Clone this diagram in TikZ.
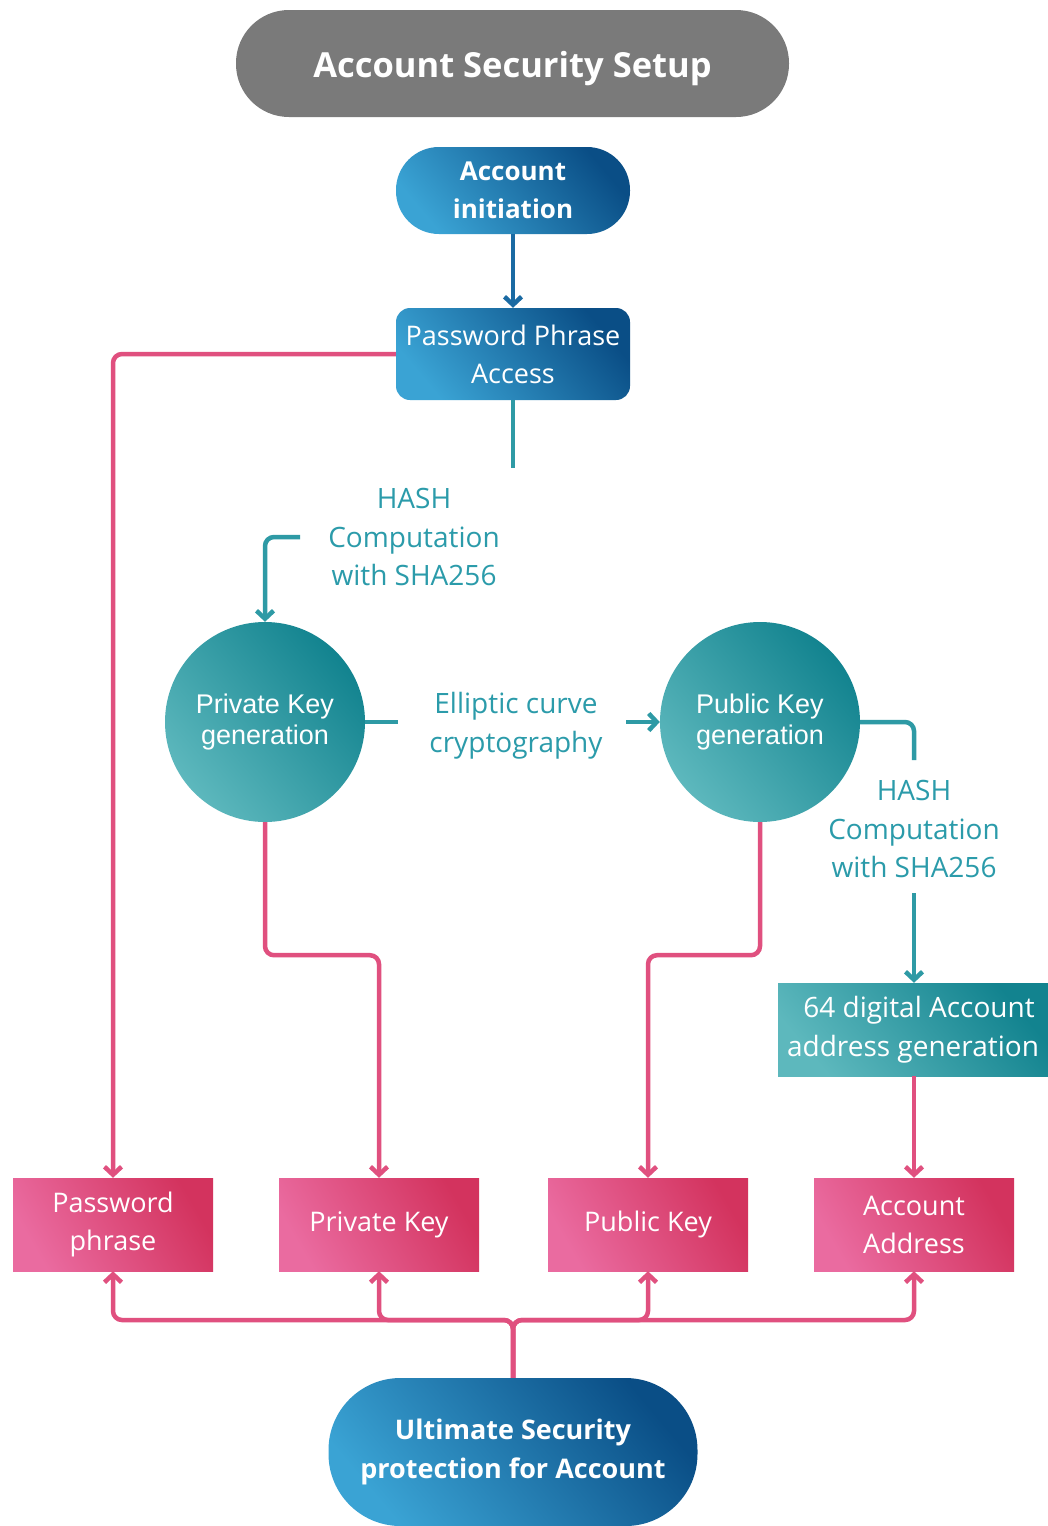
\documentclass[tikz,border=0pt]{standalone}
\usepackage{fontspec}
\setmainfont{Open Sans}
\newfontfamily\arialfont{Liberation Sans}
\usetikzlibrary{arrows.meta,calc}
\definecolor{blueL}{HTML}{3AA3D4}
\definecolor{blueD}{HTML}{0A4E86}
\definecolor{tealL}{HTML}{5DB8BD}
\definecolor{tealD}{HTML}{12838F}
\definecolor{pinkL}{HTML}{EA6BA0}
\definecolor{pinkD}{HTML}{D3335E}
\definecolor{titlegray}{HTML}{7A7A7A}
\definecolor{labelteal}{HTML}{2B9BAA}
\definecolor{pinkline}{HTML}{E0507F}
\definecolor{tealline}{HTML}{2E9AA5}
\definecolor{blueline}{HTML}{1A6AA3}
\tikzset{
  titlebox/.style={fill=titlegray,text=white,rounded corners=53pt,minimum width=553pt,minimum height=107pt,
     text height=36pt,text depth=8pt,font=\fontsize{34.5}{40}\selectfont\bfseries},
  bluegrad/.style={top color=blueD,bottom color=blueL,shading angle=-50,text=white},
  tealgrad/.style={top color=tealD,bottom color=tealL,shading angle=-50,text=white},
  pinkgrad/.style={top color=pinkD,bottom color=pinkL,shading angle=-60,text=white},
  initbox/.style={bluegrad,rounded corners=43pt,minimum width=234pt,minimum height=87pt,align=center,
     font=\fontsize{26}{38}\selectfont\bfseries},
  ppabox/.style={bluegrad,rounded corners=14pt,minimum width=234pt,minimum height=92pt,align=center,inner sep=0pt,
     font=\fontsize{27}{38}\selectfont},
  keycircle/.style={tealgrad,circle,minimum size=200pt,inner sep=0pt,align=center,
     font=\arialfont\fontsize{27}{31}\selectfont},
  addrbox/.style={tealgrad,minimum width=270pt,minimum height=93pt,align=center,inner sep=0pt,
     font=\fontsize{28}{39}\selectfont},
  outbox/.style={pinkgrad,minimum width=200pt,minimum height=93pt,align=center,inner sep=0pt,
     font=\fontsize{27}{38}\selectfont},
  ultbox/.style={bluegrad,rounded corners=72pt,minimum width=369pt,minimum height=148pt,align=center,
     font=\fontsize{27}{39}\selectfont\bfseries},
  lbl/.style={text=labelteal,align=center,inner sep=0pt,font=\fontsize{28}{38.5}\selectfont},
  arr/.style={-{Straight Barb[length=8pt,width=17pt]}},
  pinkc/.style={draw=pinkline,line width=4.5pt,rounded corners=9pt},
  tealc/.style={draw=tealline,line width=4.5pt,rounded corners=9pt},
  bluec/.style={draw=blueline,line width=4.5pt},
}
\begin{document}
\begin{tikzpicture}[x=1pt,y=-1pt]
\useasboundingbox (0,0) rectangle (1048,1526);
\fill[white] (0,0) rectangle (1048,1526);

\node[titlebox] (title) at (512.5,63.5) {Account Security Setup};
\node[initbox] (init) at (513,190.5) {Account\\initiation};
\node[ppabox] (ppa) at (513,354) {Password Phrase\\Access};

\node[keycircle] (priv) at (265,722) {Private Key\\generation};
\node[keycircle] (pub) at (760,722) {Public Key\\generation};

\node[lbl] (hash1) at (414,537) {HASH\\Computation\\with SHA256};
\node[lbl] (ecc) at (516,725.5) {Elliptic curve\\cryptography};
\node[lbl] (hash2) at (914,829) {HASH\\Computation\\with SHA256};

\node[addrbox] (addr) at (913,1029.5) {\hspace*{12pt}64 digital Account\\address generation};

\node[outbox] (pw) at (113,1224.5) {Password\\phrase};
\node[outbox] (pk) at (379,1224.5) {Private Key};
\node[outbox] (pubk) at (648,1224.5) {Public Key};
\node[outbox] (acc) at (914,1224.5) {Account\\Address};

\node[ultbox] (ult) at (513,1452) {Ultimate Security\\protection for Account};

% coordinates for free ends
\coordinate (h1top) at (513,468);
\coordinate (h1left) at (300,537);
\coordinate (eccl) at (398,722);
\coordinate (eccr) at (626,722);
\coordinate (h2top) at (914,760);
\coordinate (h2bot) at (914,893);
\coordinate (bus) at (513,1320);

% connectors
\draw[bluec,arr] (init.south) -- (ppa.north);
\draw[tealc] (ppa.south) -- (h1top);
\draw[tealc,arr] (h1left) -| (priv.north);
\draw[tealc] (priv.east) -- (eccl);
\draw[tealc,arr] (eccr) -- (pub.west);
\draw[tealc] (pub.east) -| (h2top);
\draw[tealc,arr] (h2bot) -- (h2bot |- addr.north);

\draw[pinkc,arr] (ppa.west) -| (pw.north);
\draw[pinkc,arr] (priv.south) -- ++(0,133) -| (pk.north);
\draw[pinkc,arr] (pub.south) -- ++(0,133) -| (pubk.north);
\draw[pinkc,arr] (addr.south -| acc.north) -- (acc.north);

\draw[pinkc,arr] (ult.north) -- (bus) -| (pw.south);
\draw[pinkc,arr] (ult.north) -- (bus) -| (pk.south);
\draw[pinkc,arr] (ult.north) -- (bus) -| (pubk.south);
\draw[pinkc,arr] (ult.north) -- (bus) -| (acc.south);
\end{tikzpicture}
\end{document}
